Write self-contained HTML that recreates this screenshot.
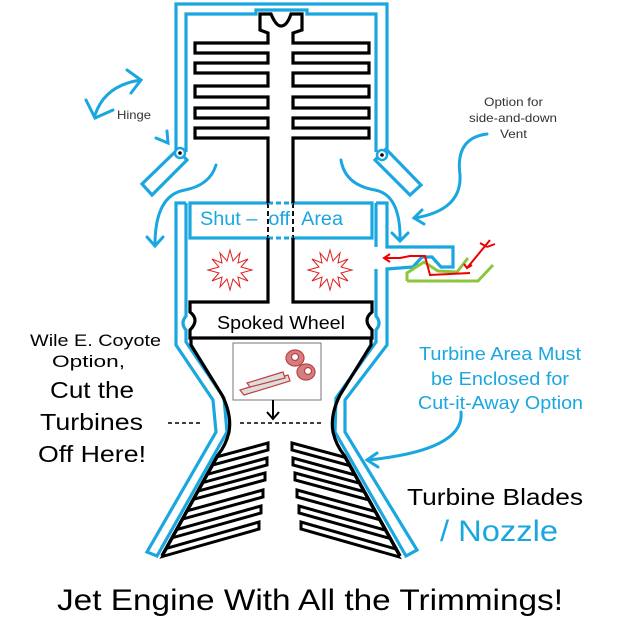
<!DOCTYPE html>
<html><head><meta charset="utf-8"><style>
html,body{margin:0;padding:0;background:#fff;}
svg{display:block;}
text{font-family:"Liberation Sans",Arial,sans-serif;}
</style></head><body>
<svg width="623" height="636" viewBox="0 0 623 636" xmlns="http://www.w3.org/2000/svg">
<defs>
<clipPath id="cl"><polygon points="219,430 275,430 275,570 150,570 160,558 218,455"/></clipPath>
<clipPath id="cr"><polygon points="342,430 286,430 286,570 411,570 401,558 343,455"/></clipPath>
</defs>
<g fill="none" stroke="#1aa7e0" stroke-width="3.2" stroke-linejoin="miter">
<path d="M176,150 L176,4 L387,4 L387,150"/>
<path d="M186,152 L186,14 L256,14 L256,10 L307,10 L307,14 L376,14 L376,152"/>
<polygon points="177,150 187,160 152,195 142,184"/>
<polygon points="375,160 386,149 421,185 410,195"/>
<path d="M186,203 L176,203 L176,345 L213,400 L216,432 L147,552 L157,556 L227,432 L224,398 L186,342 L186,330 Q180,323 186,316 L186,203"/>
<path d="M376,203 L387,203 L387,247 L453,247 L453,267 L441,267 L432,257 L422,257 L413,267 L387,269 L387,345 L345,400 L345,432 L417,550 L406,556 L335,432 L336,398 L376,342 L376,330 Q382,323 376,316 L376,269"/>
<path d="M376,203 L376,247"/>
<rect x="190" y="203" width="182" height="35"/>
</g>
<rect x="270" y="201" width="21" height="39" fill="#fff"/>
<path d="M268,203 L268,238 M293,203 L293,238" stroke="#111" stroke-width="2" stroke-dasharray="5,3"/>
<path d="M268,203 L293,203 M268,238 L293,238" stroke="#1aa7e0" stroke-width="3" stroke-dasharray="5,3"/>
<text x="200" y="225" font-size="19" fill="#1aa7e0" textLength="143" lengthAdjust="spacingAndGlyphs">Shut –&#160;&#160;off&#160;&#160;Area</text>
<circle cx="180" cy="153" r="5" fill="#fff" stroke="#1aa7e0" stroke-width="2.5"/><circle cx="180" cy="153" r="1.8" fill="#000"/>
<circle cx="382" cy="155" r="5" fill="#fff" stroke="#1aa7e0" stroke-width="2.5"/><circle cx="382" cy="155" r="1.8" fill="#000"/>
<g fill="none" stroke="#000" stroke-width="3.2" stroke-linejoin="miter">
<path d="M268,203 L268,138 L195,138 L195,128 L268,128 L268,118 L195,118 L195,108 L268,108 L268,97 L195,97 L195,86 L268,86 L268,73 L195,73 L195,63 L268,63 L268,53 L195,53 L195,43 L268,43 L268,33 L260,30 L260,14 L271,14 Q276,26 281,26 Q287,26 291,14 L302,14 L302,30 L293,33 L293,43 L369,43 L369,53 L293,53 L293,63 L369,63 L369,73 L293,73 L293,86 L369,86 L369,97 L293,97 L293,108 L369,108 L369,118 L293,118 L293,128 L369,128 L369,138 L293,138 L293,203"/>
<path d="M268,238 L268,302 L190,302 L190,312 Q200,320 190,330 L190,338 L372,338 L372,330 Q362,320 372,312 L372,302 L293,302 L293,238"/>
<path d="M191,338 L191,345 L222,395 Q232,415 229,432 Q226,445 218,455 L162,556"/>
<path d="M371,338 L371,345 L340,395 Q330,415 333,432 Q336,445 344,455 L400,556"/>
</g>
<g clip-path="url(#cl)" fill="#fff" stroke="#000" stroke-width="3">
<polygon points="268,443 268,450 150,482 150,475"/>
<polygon points="267,458 267,465 150,497 150,490"/>
<polygon points="265,473 265,480 150,511 150,504"/>
<polygon points="263,490 263,497 150,528 150,521"/>
<polygon points="261,506 261,513 150,544 150,537"/>
<polygon points="259,522 259,529 150,560 150,553"/>
</g>
<g clip-path="url(#cr)" fill="#fff" stroke="#000" stroke-width="3">
<polygon points="292,443 292,450 410,482 410,475"/>
<polygon points="293,458 293,465 410,497 410,490"/>
<polygon points="295,473 295,480 410,511 410,504"/>
<polygon points="297,490 297,497 410,528 410,521"/>
<polygon points="299,506 299,513 410,544 410,537"/>
<polygon points="301,522 301,529 410,560 410,553"/>
</g>
<path d="M218,455 L162,556 M344,455 L400,556" stroke="#000" stroke-width="3.5" fill="none"/>
<text x="217" y="329" font-size="18" fill="#000" textLength="128" lengthAdjust="spacingAndGlyphs">Spoked Wheel</text>
<polygon fill="none" stroke="#e02020" stroke-width="1" points="230,250 233,261 240,253 238,263 248,259 241,267 252,270 241,273 248,281 238,277 240,287 233,279 230,290 227,279 220,287 222,277 212,281 219,273 208,270 219,267 212,259 222,263 220,253 227,261"/>
<polygon fill="none" stroke="#e02020" stroke-width="1" points="330,250 333,261 340,253 338,263 348,259 341,267 352,270 341,273 348,281 338,277 340,287 333,279 330,290 327,279 320,287 322,277 312,281 319,273 308,270 319,267 312,259 322,263 320,253 327,261"/>
<rect x="233" y="343" width="88" height="57" fill="#fff" stroke="#777" stroke-width="1"/>
<g stroke="#c04040" stroke-width="1.2" fill="#ddd">
<polygon points="288,375 240,390 244,395 290,381"/>
<polygon points="283,372 247,383 250,387 285,378"/>
<ellipse cx="295" cy="358" rx="9" ry="8" fill="#d08080"/>
<ellipse cx="306" cy="372" rx="9" ry="8" fill="#d08080"/>
<circle cx="295" cy="357" r="3.5" fill="#fff"/><circle cx="308" cy="371" r="3.5" fill="#fff"/>
</g>
<path d="M273,400 L273,418 M267,412 L273,419 L279,412" stroke="#000" stroke-width="2" fill="none"/>
<path d="M168,423 L200,423 M240,423 L322,423" stroke="#000" stroke-width="1.6" stroke-dasharray="4,3"/>
<path d="M407,281 L407,273 L424,262 L438,271 L457,272 L468,258 M407,281 L478,281 L493,265" stroke="#8cc63f" stroke-width="3" fill="none"/>
<path d="M490,240 L467,268 M464,264 L467,268 L472,265 M470,273 L430,275 L425,256 L410,256 L400,258 L384,258 M390,254 L384,258 L390,262 M487,247 L480,243 M487,247 L495,244" stroke="#e00" stroke-width="2" fill="none"/>
<g stroke="#1aa7e0" stroke-width="3" fill="none" stroke-linecap="round">
<path d="M216,165 Q210,185 185,190 Q155,195 155,245 M147,237 L155,246 L163,237"/>
<path d="M341,160 Q345,185 375,190 Q401,195 400,241 M392,233 L400,241 L408,233"/>
<path d="M487,134 Q455,138 460,175 Q462,210 415,218 M422,210 L414,218 L424,224"/>
<path d="M95,115 Q105,85 141,80 M127,70 L141,80 L131,93 M86,100 L95,118 L113,110"/>
<path d="M156,138 L168,143 L167,131"/>
<path d="M461,412 Q465,450 368,460 M377,453 L367,460 L378,467"/>
</g>
<text x="117" y="119" font-size="12" fill="#333" textLength="34" lengthAdjust="spacingAndGlyphs">Hinge</text>
<g font-size="12" fill="#333">
<text x="484" y="106" textLength="59" lengthAdjust="spacingAndGlyphs">Option for</text>
<text x="469" y="122" textLength="88" lengthAdjust="spacingAndGlyphs">side-and-down</text>
<text x="500" y="138" textLength="27" lengthAdjust="spacingAndGlyphs">Vent</text>
</g>
<g font-size="17" fill="#000">
<text x="30" y="346" textLength="131" lengthAdjust="spacingAndGlyphs">Wile E. Coyote</text>
<text x="52" y="367" textLength="73" lengthAdjust="spacingAndGlyphs">Option,</text>
</g>
<g font-size="23" fill="#000">
<text x="50" y="398" textLength="84" lengthAdjust="spacingAndGlyphs">Cut the</text>
<text x="40" y="430" textLength="103" lengthAdjust="spacingAndGlyphs">Turbines</text>
<text x="38" y="462" textLength="108" lengthAdjust="spacingAndGlyphs">Off Here!</text>
</g>
<g font-size="18" fill="#1aa7e0">
<text x="419" y="360" textLength="162" lengthAdjust="spacingAndGlyphs">Turbine Area Must</text>
<text x="431" y="385" textLength="138" lengthAdjust="spacingAndGlyphs">be Enclosed for</text>
<text x="418" y="409" textLength="165" lengthAdjust="spacingAndGlyphs">Cut-it-Away Option</text>
</g>
<text x="407" y="505" font-size="23" fill="#000" textLength="176" lengthAdjust="spacingAndGlyphs">Turbine Blades</text>
<text x="440" y="541" font-size="30" fill="#1aa7e0" textLength="118" lengthAdjust="spacingAndGlyphs">/ Nozzle</text>
<text x="57" y="610" font-size="30" fill="#000" textLength="506" lengthAdjust="spacingAndGlyphs">Jet Engine With All the Trimmings!</text>
</svg>
</body></html>
